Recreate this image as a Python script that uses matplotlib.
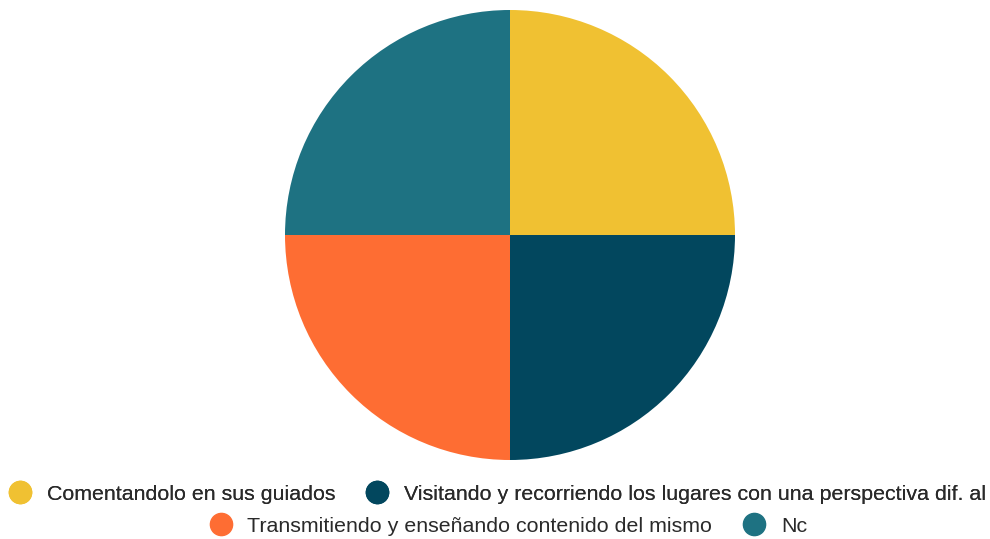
import matplotlib.pyplot as plt
from matplotlib.lines import Line2D

plt.rcParams["font.family"] = ["Liberation Sans", "DejaVu Sans"]

# Datos
categorias = [
    "Comentandolo en sus guiados",
    "Visitando y recorriendo los lugares con una perspectiva dif. al",
    "Transmitiendo y enseñando contenido del mismo",
    "Nc",
]
valores = [1, 1, 1, 1]
colores = ["#F0C132", "#02475E", "#FE6D33", "#1E7282"]

fig = plt.figure(figsize=(9.9, 5.39), dpi=100)
W, H = 990, 539
cx, cy, r = 510, 235, 225
ax = fig.add_axes([(cx - r) / W, 1 - (cy + r) / H, 2 * r / W, 2 * r / H])

ax.pie(valores, colors=colores, startangle=90, counterclock=False,
       radius=1, wedgeprops=dict(linewidth=0))
ax.set_xlim(-1, 1)
ax.set_ylim(-1, 1)
ax.set_aspect("equal")
ax.axis("off")

handles = [Line2D([0], [0], marker="o", linestyle="none", markersize=16,
                  markerfacecolor=c, markeredgecolor=c) for c in colores]

leg_kw = dict(loc="center", frameon=False, ncol=2, fontsize=15.4,
              handlelength=0.9, handletextpad=0.8, columnspacing=1.5,
              labelcolor="#2a2a2a")
leg1 = fig.legend(handles[:2], categorias[:2],
                  bbox_to_anchor=(498 / W, 1 - 494 / H), **leg_kw)
fig.add_artist(leg1)
leg2 = fig.legend(handles[2:], categorias[2:],
                  bbox_to_anchor=(509 / W, 1 - 526 / H), **leg_kw)

fig.savefig("out.png", dpi=100)
